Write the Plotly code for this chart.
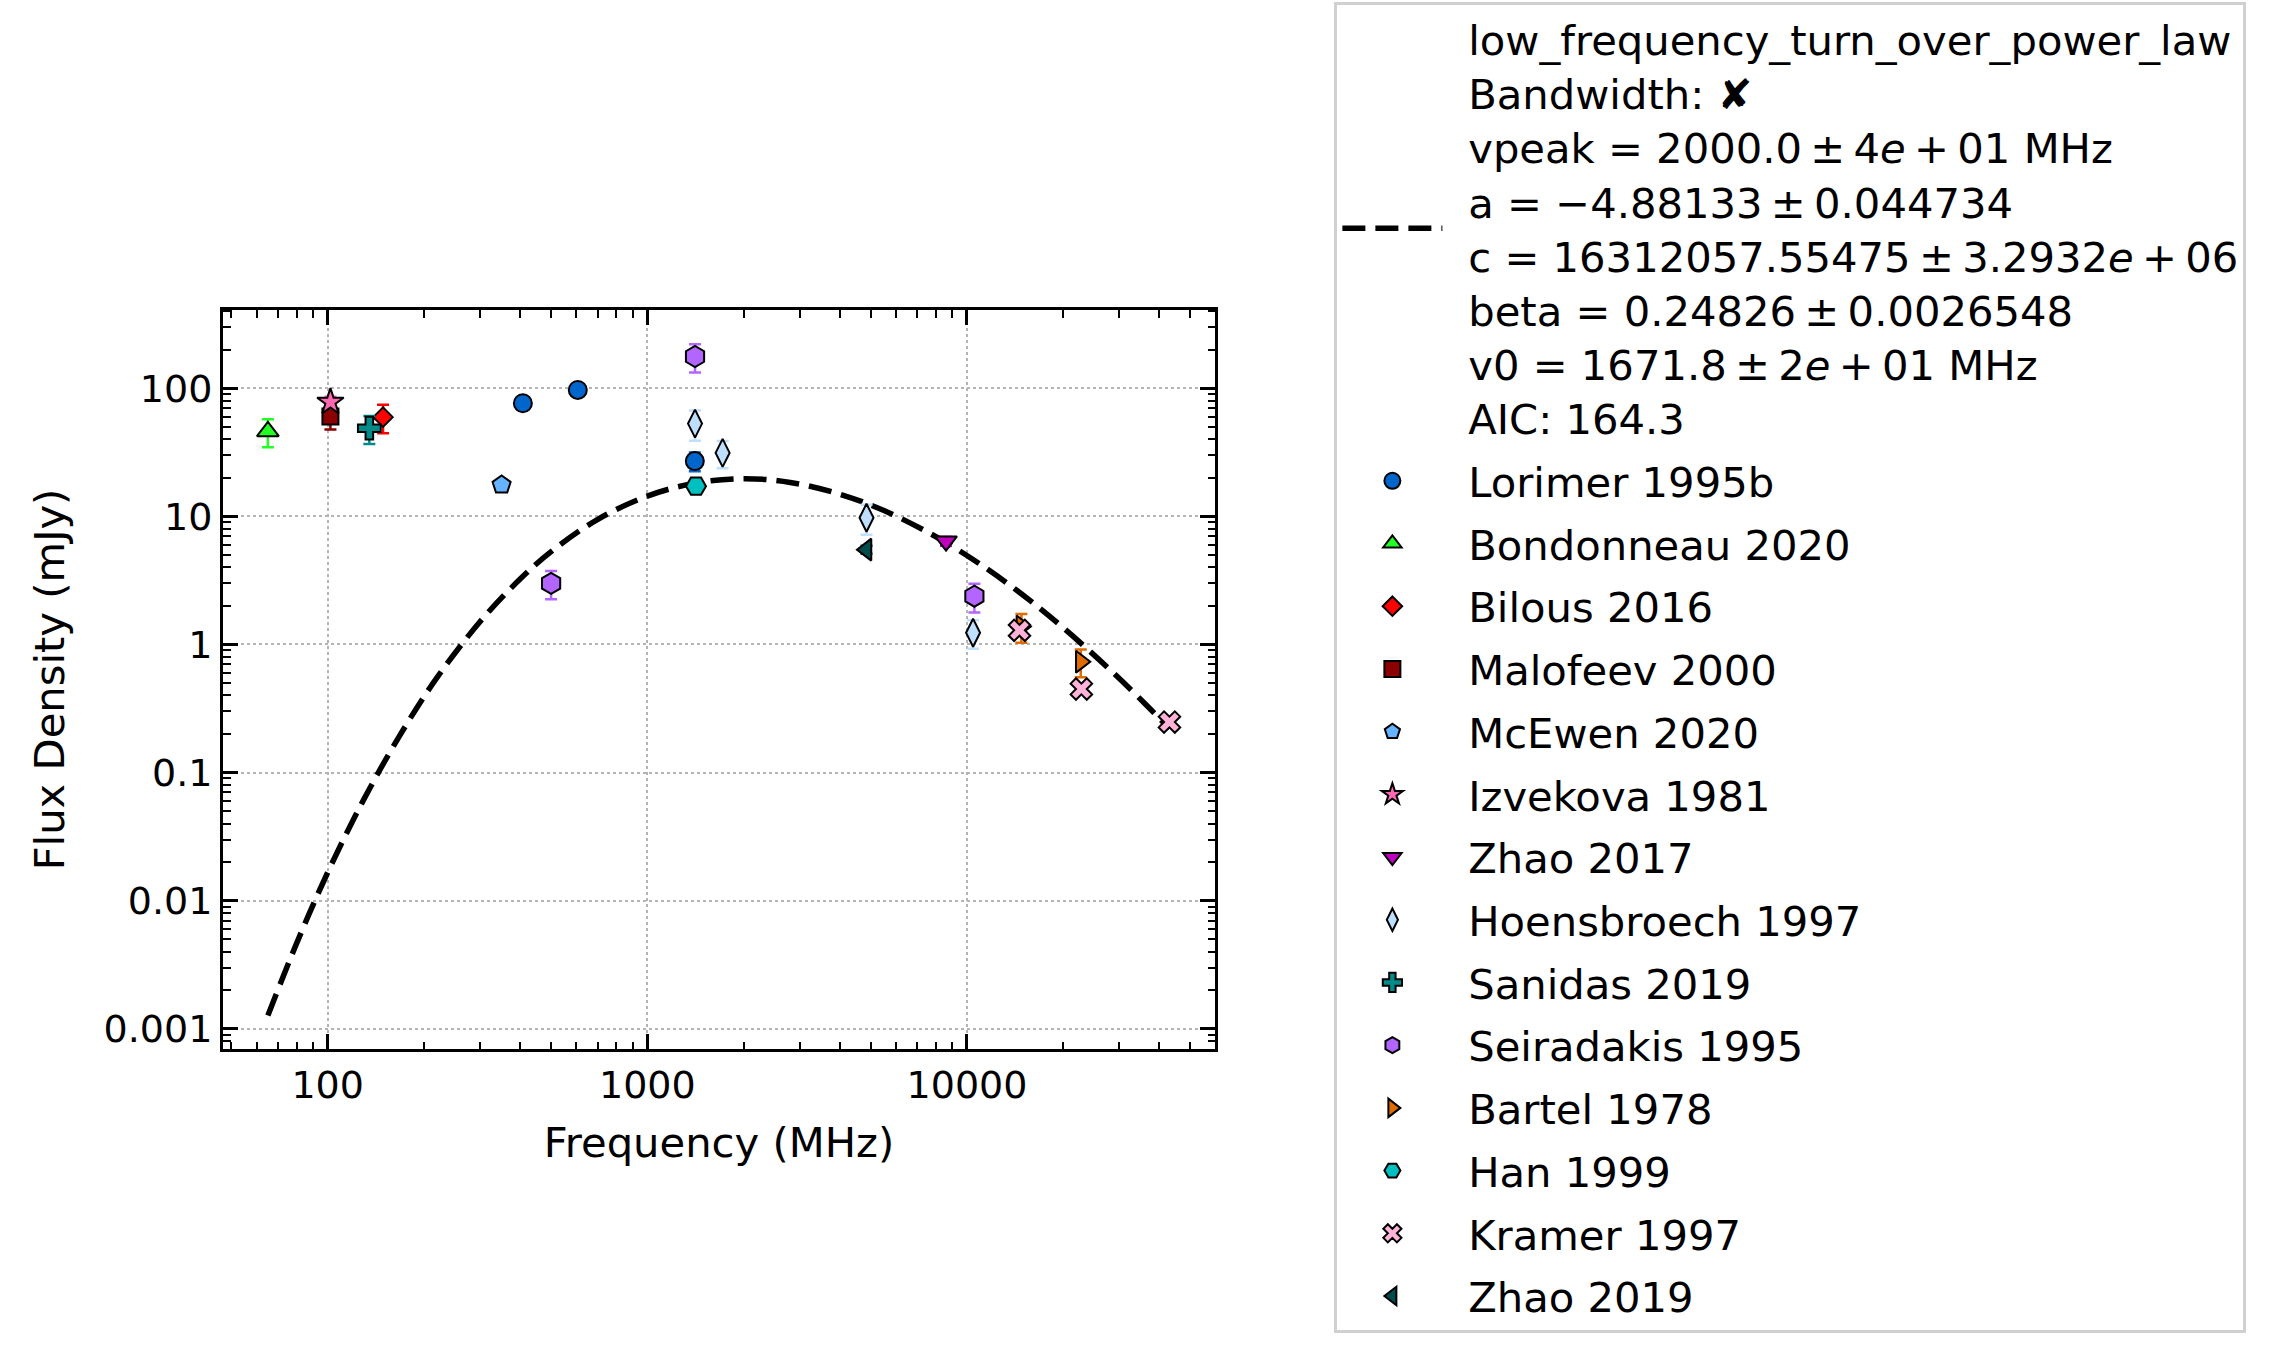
import plotly.graph_objects as go

# ---------------- data ----------------
fit_freq = [65, 80, 100, 130, 170, 220, 300, 400, 500, 700, 1000, 1400, 2000,
            2800, 4000, 5500, 8000, 11000, 15000, 20000, 28000, 36000, 43000]
fit_flux = [0.00127, 0.00466, 0.0166, 0.0623, 0.204, 0.553, 1.51, 3.24, 5.30,
            9.48, 14.4, 18.1, 19.7, 18.4, 14.9, 11.1, 6.93, 4.23, 2.42, 1.35,
            0.636, 0.346, 0.220]

lorimer_f = [408, 606, 1408]
lorimer_s = [76.4, 97.0, 27.0]
lorimer_e = [7.6, 9.7, 4.5]

bondonneau_f = [65]
bondonneau_s = [46.0]
bondonneau_e = [11.4]

bilous_f = [149]
bilous_s = [59.5]
bilous_e = [15.0]

malofeev_f = [102]
malofeev_s = [60.2]
malofeev_e = [12.5]

mcewen_f = [350]
mcewen_s = [17.6]
mcewen_e = [1.8]

izvekova_f = [102]
izvekova_s = [78.0]
izvekova_e = [8.0]

zhao17_f = [8600]
zhao17_s = [6.4]
zhao17_e = [0.5]

hoensbroech_f = [1410, 1720, 4850, 10450]
hoensbroech_s = [53.0, 31.3, 9.75, 1.235]
hoensbroech_e = [14.0, 7.5, 2.55, 0.31]

sanidas_f = [135]
sanidas_s = [48.8]
sanidas_e = [12.0]

seiradakis_f = [500, 1410, 10550]
seiradakis_s = [3.0, 177.0, 2.38]
seiradakis_e = [0.75, 44.0, 0.6]

bartel_f = [14800, 22700]
bartel_s = [1.38, 0.734]
bartel_e = [0.35, 0.18]

han_f = [1420]
han_s = [17.2]
han_e = [1.5]

kramer_f = [14600, 22800, 43000]
kramer_s = [1.29, 0.449, 0.248]
kramer_e = [0.1, 0.035, 0.02]

zhao19_f = [4850]
zhao19_s = [5.5]
zhao19_e = [0.4]

x_tickvals = [100, 1000, 10000]
x_ticktext = ["100", "1000", "10000"]
y_tickvals = [0.001, 0.01, 0.1, 1, 10, 100]
y_ticktext = ["0.001", "0.01", "0.1", "1", "10", "100"]

T = "\u2009"  # thin space, like the math-mode spacing around operators
fit_lines = [
    "low_frequency_turn_over_power_law",
    "Bandwidth: \u2718",
    f"vpeak = 2000.0{T}\u00b1{T}4<i>e</i>{T}+{T}01 MHz",
    f"a = \u22124.88133{T}\u00b1{T}0.044734",
    f"c = 16312057.55475{T}\u00b1{T}3.2932<i>e</i>{T}+{T}06",
    f"beta = 0.24826{T}\u00b1{T}0.0026548",
    f"v0 = 1671.8{T}\u00b1{T}2<i>e</i>{T}+{T}01 MHz",
    "AIC: 164.3",
]

series = [
    ("Lorimer 1995b", lorimer_f, lorimer_s, lorimer_e, "circle", "#0066cc", 18),
    ("Bondonneau 2020", bondonneau_f, bondonneau_s, bondonneau_e, "triangle-up", "#22ff22", 19),
    ("Bilous 2016", bilous_f, bilous_s, bilous_e, "diamond", "#ff0000", 15),
    ("Malofeev 2000", malofeev_f, malofeev_s, malofeev_e, "square", "#8b0000", 16),
    ("McEwen 2020", mcewen_f, mcewen_s, mcewen_e, "pentagon", "#66b3ff", 19),
    ("Izvekova 1981", izvekova_f, izvekova_s, izvekova_e, "star", "#ff69b4", 20),
    ("Zhao 2017", zhao17_f, zhao17_s, zhao17_e, "triangle-down", "#bf00bf", 19),
    ("Hoensbroech 1997", hoensbroech_f, hoensbroech_s, hoensbroech_e, "diamond-tall", "#bfdfff", 20),
    ("Sanidas 2019", sanidas_f, sanidas_s, sanidas_e, "cross", "#008b8b", 19),
    ("Seiradakis 1995", seiradakis_f, seiradakis_s, seiradakis_e, "hexagon", "#b266ff", 21),
    ("Bartel 1978", bartel_f, bartel_s, bartel_e, "triangle-right", "#e06c00", 19),
    ("Han 1999", han_f, han_s, han_e, "hexagon2", "#00bfbf", 20),
    ("Kramer 1997", kramer_f, kramer_s, kramer_e, "x", "#ffb3d9", 19),
    ("Zhao 2019", zhao19_f, zhao19_s, zhao19_e, "triangle-left", "#004c4c", 19),
]

FONT = "DejaVu Sans"
PAD = "\u2002"  # small gap between legend symbol and label, as in the reference

fig = go.Figure()
fig.add_trace(go.Scatter(
    x=fit_freq, y=fit_flux, mode="lines",
    name="<br>".join(PAD + ln for ln in fit_lines), legendgroup="fit",
    line=dict(color="black", width=5.5, dash="23px,10px", shape="spline"),
))
for name, f, s, e, sym, col, size in series:
    fig.add_trace(go.Scatter(
        x=f, y=s, mode="markers", name=PAD + name, legendgroup=name,
        marker=dict(symbol=sym, size=size, color=col,
                    line=dict(color="black", width=2)),
        error_y=dict(type="data", array=e, visible=True, color=col,
                     thickness=2.5, width=6),
    ))

axis_common = dict(
    type="log", showline=True, linecolor="black", linewidth=3, mirror="allticks",
    ticks="inside", ticklen=15, tickwidth=2.5, tickcolor="black",
    showgrid=True, gridcolor="#b4b4b4", gridwidth=2, griddash="dot",
    zeroline=False, tickfont=dict(family=FONT, size=38, color="black"),
    minor=dict(ticks="inside", ticklen=7.5, tickwidth=2, tickcolor="black",
               dtick="D1", showgrid=False),
    automargin=False,
)

LEG_FONT = 41.7
fig.update_layout(
    width=2276, height=1360,
    margin=dict(l=222.5, r=2276 - 1215.5, t=310, b=1360 - 1049, autoexpand=False),
    paper_bgcolor="white", plot_bgcolor="white",
    font=dict(family=FONT, size=LEG_FONT, color="black"),
    xaxis=dict(axis_common, range=[1.6725, 4.776], tickmode="array",
               tickvals=x_tickvals, ticktext=x_ticktext,
               title=dict(text="Frequency (MHz)", font=dict(family=FONT, size=41.7),
                          standoff=23)),
    yaxis=dict(axis_common, range=[-3.158, 2.611], tickmode="array",
               tickvals=y_tickvals, ticktext=y_ticktext,
               title=dict(text="Flux Density (mJy)", font=dict(family=FONT, size=41.7),
                          standoff=27)),
    legend=dict(x=(1335 - 222.5) / 993, y=(1049 - 2) / 739, xanchor="left", yanchor="top",
                bordercolor="#d0d0d0", borderwidth=3, bgcolor="white",
                font=dict(family=FONT, size=LEG_FONT, color="black"),
                itemwidth=100, tracegroupgap=5.5, valign="middle", maxheight=1358),
    showlegend=True,
)

fig.write_html("out.html")
